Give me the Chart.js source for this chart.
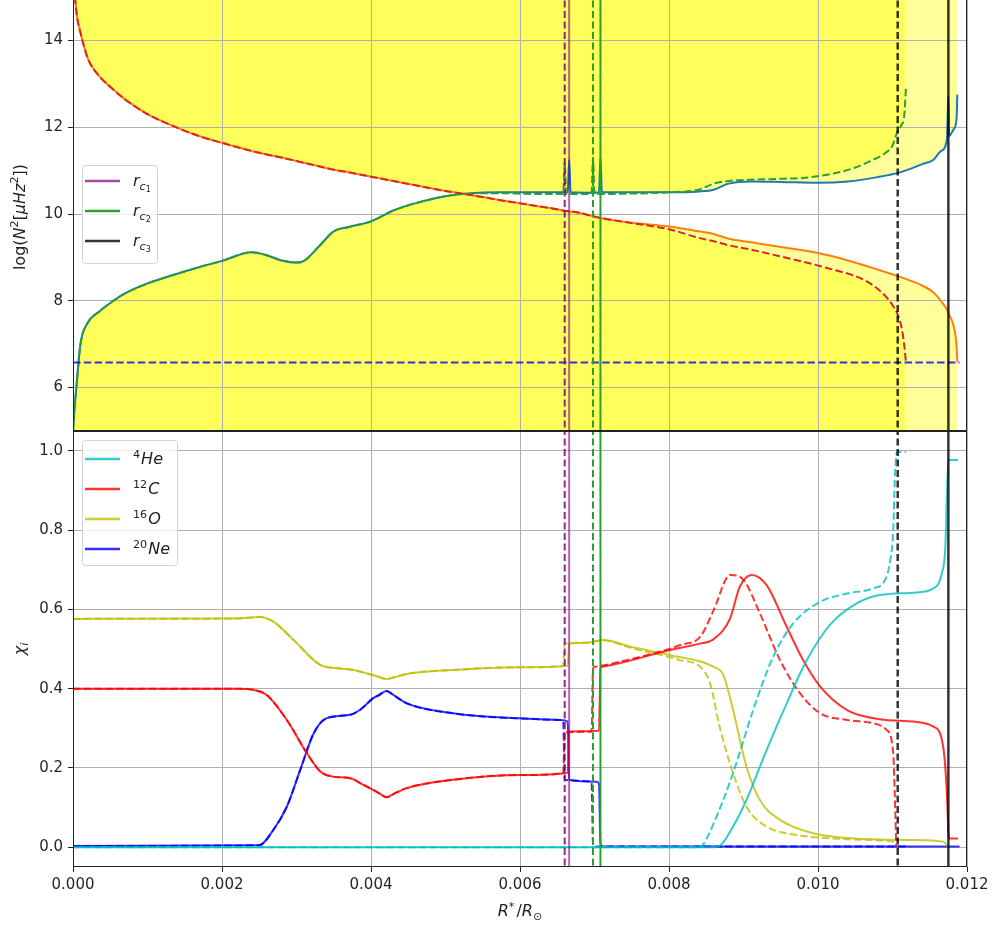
<!DOCTYPE html>
<html>
<head>
<meta charset="utf-8">
<script src="https://cdn.jsdelivr.net/npm/chart.js@4.4.1/dist/chart.umd.min.js"></script>
<style>
  body { margin: 0; background: #fff; }
  #wrap { position: relative; width: 992px; height: 928px; overflow: hidden; }
  canvas { position: absolute; left: 0; }
  #topPanel { top: -3px; }
  #bottomPanel { top: 431px; }
</style>
</head>
<body>
<div id="wrap">
  <canvas id="topPanel" width="992" height="434"></canvas>
  <canvas id="bottomPanel" width="992" height="497"></canvas>
</div>
<script>
// ---- axis ticks ----
const xTicks = [0, 0.002, 0.004, 0.006, 0.008, 0.010, 0.012];
const xTickLabels = ['0.000', '0.002', '0.004', '0.006', '0.008', '0.010', '0.012'];
const topYTicks = [6, 8, 10, 12, 14];
const topYTickLabels = ['6', '8', '10', '12', '14'];
const botYTicks = [0, 0.2, 0.4, 0.6, 0.8, 1.0];
const botYTickLabels = ['0.0', '0.2', '0.4', '0.6', '0.8', '1.0'];

// ---- model 1 (dashed): radius, log N^2, log S^2 ----
const r1 = [0, 0.00002, 0.00005, 0.0001, 0.0002, 0.00035, 0.0005, 0.0007, 0.001, 0.0013, 0.0017, 0.002, 0.0024, 0.0026, 0.0028, 0.003, 0.0031, 0.0033, 0.0035, 0.0037, 0.004, 0.0043, 0.0046, 0.005, 0.0053, 0.0057, 0.0062, 0.00658, 0.0066, 0.00662, 0.00696, 0.00698, 0.007, 0.0075, 0.008, 0.0084, 0.0086, 0.0088, 0.0091, 0.0095, 0.0098, 0.0102, 0.0105, 0.0107, 0.0109, 0.011, 0.01106, 0.01112, 0.01116, 0.01118];
const n1 = [5.0, 5.5, 6.1, 7.0, 7.5, 7.75, 7.95, 8.17, 8.4, 8.57, 8.78, 8.92, 9.12, 9.05, 8.93, 8.88, 8.92, 9.25, 9.6, 9.7, 9.83, 10.08, 10.25, 10.41, 10.47, 10.48, 10.46, 10.46, 11.2, 10.46, 10.46, 11.3, 10.46, 10.47, 10.5, 10.56, 10.7, 10.76, 10.79, 10.81, 10.83, 10.93, 11.07, 11.22, 11.4, 11.58, 11.87, 12.05, 12.3, 12.9];
const s1 = [16.0, 15.2, 14.6, 14.18, 13.58, 13.18, 12.93, 12.64, 12.3, 12.06, 11.79, 11.64, 11.45, 11.37, 11.3, 11.22, 11.18, 11.1, 11.02, 10.96, 10.86, 10.76, 10.66, 10.53, 10.45, 10.33, 10.19, 10.08, 10.07, 10.07, 9.96, 9.95, 9.94, 9.79, 9.65, 9.45, 9.37, 9.28, 9.18, 9.02, 8.9, 8.72, 8.57, 8.4, 8.12, 7.9, 7.72, 7.4, 6.95, 6.58];

// ---- model 2 (solid) ----
const r2 = [0, 0.00002, 0.00005, 0.0001, 0.0002, 0.00035, 0.0005, 0.0007, 0.001, 0.0013, 0.0017, 0.002, 0.0024, 0.0026, 0.0028, 0.003, 0.0031, 0.0033, 0.0035, 0.0037, 0.004, 0.0043, 0.0046, 0.005, 0.0053, 0.0057, 0.0062, 0.00664, 0.00666, 0.00668, 0.007, 0.00706, 0.00708, 0.0071, 0.0075, 0.008, 0.0084, 0.0086, 0.0088, 0.0091, 0.0095, 0.01, 0.0104, 0.0108, 0.0111, 0.0114, 0.01155, 0.01165, 0.01173, 0.01175, 0.01176, 0.01182, 0.01186, 0.01187];
const n2 = [5.0, 5.5, 6.1, 7.0, 7.5, 7.75, 7.95, 8.17, 8.4, 8.57, 8.78, 8.92, 9.12, 9.05, 8.93, 8.88, 8.92, 9.25, 9.6, 9.7, 9.83, 10.08, 10.25, 10.41, 10.47, 10.5, 10.5, 10.5, 11.25, 10.5, 10.49, 10.5, 11.3, 10.5, 10.5, 10.5, 10.52, 10.56, 10.7, 10.75, 10.74, 10.72, 10.75, 10.85, 10.96, 11.15, 11.25, 11.45, 11.71, 12.72, 11.8, 11.95, 12.2, 12.75];
const s2 = [16.0, 15.2, 14.6, 14.18, 13.58, 13.18, 12.93, 12.64, 12.3, 12.06, 11.79, 11.64, 11.45, 11.37, 11.3, 11.22, 11.18, 11.1, 11.02, 10.96, 10.86, 10.76, 10.66, 10.53, 10.45, 10.33, 10.19, 10.06, 10.05, 10.05, 9.94, 9.92, 9.91, 9.9, 9.8, 9.71, 9.6, 9.54, 9.43, 9.35, 9.24, 9.1, 8.93, 8.72, 8.55, 8.35, 8.19, 8.0, 7.8, 7.73, 7.68, 7.42, 6.95, 6.58];

const logOmega2 = 6.58;
const omegaSpan = [0, 0.0119];

// convective boundaries r_c1, r_c2, r_c3
const rcDashed = [0.0066, 0.00698, 0.01107];
const rcSolid = [0.00666, 0.00708, 0.01175];
const rcColors = ['rgba(128,0,128,0.7)', '#2ca02c', 'rgba(0,0,0,0.8)'];

// ---- abundances, model 2 (solid) ----
const heR2 = [0, 0.0086, 0.00868, 0.00886, 0.00904, 0.00931, 0.00958, 0.00985, 0.01016, 0.01052, 0.01083, 0.01128, 0.01155, 0.01166, 0.01171, 0.01173, 0.01175, 0.01188];
const he2 = [0, 0, 0.003, 0.052, 0.119, 0.245, 0.363, 0.472, 0.561, 0.615, 0.636, 0.642, 0.653, 0.69, 0.76, 0.884, 0.977, 0.977];
const cR2 = [0, 0.0022, 0.00242, 0.0026, 0.00287, 0.00314, 0.00332, 0.00349, 0.00372, 0.0039, 0.0041, 0.00421, 0.0043, 0.00448, 0.0051, 0.006, 0.00664, 0.00666, 0.00706, 0.00708, 0.0071, 0.0075, 0.008, 0.0084, 0.0086, 0.00882, 0.00895, 0.00911, 0.00931, 0.00958, 0.0098, 0.01003, 0.01039, 0.01083, 0.01128, 0.01155, 0.01168, 0.01173, 0.01175, 0.01176, 0.01188];
const c2 = [0.4, 0.4, 0.397, 0.384, 0.321, 0.237, 0.191, 0.178, 0.174, 0.157, 0.137, 0.126, 0.134, 0.149, 0.17, 0.182, 0.188, 0.292, 0.294, 0.45, 0.455, 0.472, 0.497, 0.513, 0.525, 0.577, 0.657, 0.687, 0.661, 0.556, 0.472, 0.405, 0.346, 0.323, 0.317, 0.304, 0.254, 0.136, 0.04, 0.022, 0.022];
const oR2 = [0, 0.0022, 0.00251, 0.00269, 0.00296, 0.00332, 0.00358, 0.00376, 0.0041, 0.00421, 0.0043, 0.00448, 0.0051, 0.006, 0.00664, 0.00666, 0.0069, 0.00712, 0.0075, 0.008, 0.0086, 0.00873, 0.00886, 0.00904, 0.00922, 0.00949, 0.00994, 0.01039, 0.01128, 0.01168, 0.01175];
const o2 = [0.576, 0.577, 0.581, 0.569, 0.523, 0.46, 0.451, 0.447, 0.43, 0.424, 0.428, 0.437, 0.447, 0.454, 0.457, 0.514, 0.516, 0.523, 0.505, 0.485, 0.455, 0.434, 0.346, 0.203, 0.119, 0.069, 0.035, 0.023, 0.018, 0.014, 0.0];
const neR2 = [0, 0.0025, 0.00269, 0.00287, 0.00305, 0.00323, 0.0034, 0.00372, 0.00385, 0.00403, 0.0041, 0.00421, 0.0043, 0.00448, 0.0051, 0.006, 0.00654, 0.00664, 0.00666, 0.00703, 0.00706, 0.00708, 0.0071, 0.0119];
const ne2 = [0.003, 0.005, 0.044, 0.102, 0.195, 0.287, 0.325, 0.334, 0.346, 0.376, 0.383, 0.394, 0.384, 0.363, 0.338, 0.325, 0.321, 0.317, 0.17, 0.165, 0.16, 0.01, 0.002, 0.002];

// ---- abundances, model 1 (dashed) ----
const heR1 = [0, 0.0084, 0.00845, 0.0086, 0.00886, 0.00913, 0.0094, 0.00967, 0.01003, 0.01039, 0.01074, 0.0109, 0.01097, 0.01101, 0.01103, 0.01106, 0.01118];
const he1 = [0, 0, 0.005, 0.06, 0.187, 0.346, 0.481, 0.565, 0.619, 0.64, 0.653, 0.674, 0.724, 0.8, 0.926, 0.997, 0.997];
const cR1 = [0, 0.0022, 0.00242, 0.0026, 0.00287, 0.00314, 0.00332, 0.00349, 0.00372, 0.0039, 0.0041, 0.00421, 0.0043, 0.00448, 0.0051, 0.006, 0.00658, 0.0066, 0.00696, 0.00698, 0.007, 0.0075, 0.008, 0.00815, 0.00842, 0.0086, 0.00882, 0.009, 0.00922, 0.00949, 0.00976, 0.01003, 0.01039, 0.01074, 0.01092, 0.01101, 0.01103, 0.01105];
const c1 = [0.4, 0.4, 0.397, 0.384, 0.321, 0.237, 0.191, 0.178, 0.174, 0.157, 0.137, 0.126, 0.134, 0.149, 0.17, 0.182, 0.186, 0.29, 0.292, 0.45, 0.455, 0.475, 0.5, 0.51, 0.531, 0.598, 0.687, 0.674, 0.59, 0.472, 0.388, 0.338, 0.321, 0.313, 0.296, 0.237, 0.136, 0.0];
const oR1 = [0, 0.0022, 0.00251, 0.00269, 0.00296, 0.00332, 0.00358, 0.00376, 0.0041, 0.00421, 0.0043, 0.00448, 0.0051, 0.006, 0.00658, 0.0066, 0.0069, 0.0071, 0.0075, 0.008, 0.00815, 0.00842, 0.00855, 0.00868, 0.00886, 0.00904, 0.00931, 0.00971, 0.01039, 0.01101, 0.01105];
const o1 = [0.576, 0.577, 0.581, 0.569, 0.523, 0.46, 0.451, 0.447, 0.43, 0.424, 0.428, 0.437, 0.447, 0.454, 0.457, 0.514, 0.516, 0.522, 0.502, 0.48, 0.472, 0.455, 0.414, 0.304, 0.187, 0.102, 0.052, 0.031, 0.02, 0.014, 0.012];
const neR1 = [0, 0.0025, 0.00269, 0.00287, 0.00305, 0.00323, 0.0034, 0.00372, 0.00385, 0.00403, 0.0041, 0.00421, 0.0043, 0.00448, 0.0051, 0.006, 0.00654, 0.00658, 0.0066, 0.00696, 0.00698, 0.007, 0.01118];
const ne1 = [0.003, 0.005, 0.044, 0.102, 0.195, 0.287, 0.325, 0.334, 0.346, 0.376, 0.383, 0.394, 0.384, 0.363, 0.338, 0.325, 0.321, 0.318, 0.17, 0.165, 0.01, 0.002, 0.002];

const speciesColors = ['rgba(0,191,191,0.8)', 'rgba(255,0,0,0.8)', 'rgba(191,191,0,0.8)', 'rgba(0,0,255,0.8)'];

Chart.defaults.font.family = '"DejaVu Sans", sans-serif';
Chart.defaults.font.size = 15;
Chart.defaults.color = '#262626';

// ---- text helpers (mixed italic / super- / subscript) ----
function partFont(p, size) {
  const k = p.s === -2 ? 0.5 : (p.s ? 0.7 : 1);
  return (p.i ? 'italic ' : '') + (size * k).toFixed(1) + 'px "DejaVu Sans"';
}
function richWidth(ctx, parts, size) {
  let w = 0;
  parts.forEach(p => { ctx.font = partFont(p, size); w += ctx.measureText(p.t).width; });
  return w;
}
function drawRich(ctx, parts, x, y, size, align) {
  let cx = align === 'center' ? x - richWidth(ctx, parts, size) / 2 : x;
  ctx.textAlign = 'left';
  ctx.textBaseline = 'alphabetic';
  parts.forEach(p => {
    const dy = p.s === 1 ? -0.4 * size : p.s === -1 ? 0.22 * size : p.s === -2 ? 0.4 * size : 0;
    ctx.font = partFont(p, size);
    ctx.fillText(p.t, cx, y + dy);
    cx += ctx.measureText(p.t).width + (p.gap || 0);
  });
}
function drawVertical(ctx, parts, x, y, size) {
  ctx.save();
  ctx.translate(x, y);
  ctx.rotate(-Math.PI / 2);
  drawRich(ctx, parts, 0, 0.35 * size, size, 'center');
  ctx.restore();
}
function drawLegend(ctx, x, y, w, h, rows, rowY0, step) {
  ctx.save();
  ctx.fillStyle = 'rgba(255,255,255,0.8)';
  ctx.strokeStyle = '#d4d4d4';
  ctx.lineWidth = 1;
  ctx.beginPath();
  ctx.roundRect(x + 0.5, y + 0.5, w, h, 3);
  ctx.fill();
  ctx.stroke();
  rows.forEach((row, i) => {
    const ly = rowY0 + i * step;
    ctx.strokeStyle = row.color;
    ctx.lineWidth = 2.5;
    ctx.beginPath();
    ctx.moveTo(x + 3, ly);
    ctx.lineTo(x + 38, ly);
    ctx.stroke();
    ctx.fillStyle = '#222';
    drawRich(ctx, row.label, x + 51, ly + 5, 16, 'left');
  });
  ctx.restore();
}
function drawFrame(chart) {
  const ctx = chart.ctx, a = chart.chartArea;
  ctx.save();
  ctx.strokeStyle = '#222';
  ctx.lineWidth = 1;
  ctx.strokeRect(a.left + 0.5, a.top + 0.5, a.right - a.left - 1, a.bottom - a.top - 1);
  ctx.restore();
}

const rcLabels = ['1', '2', '3'].map(k => [{ t: 'r', i: true }, { t: 'c', i: true, s: -1 }, { t: k, s: -2 }]);
const speciesLabels = [
  [{ t: '4', s: 1, gap: 1 }, { t: 'He', i: true }],
  [{ t: '12', s: 1, gap: 1 }, { t: 'C', i: true }],
  [{ t: '16', s: 1, gap: 1 }, { t: 'O', i: true }],
  [{ t: '20', s: 1, gap: 1 }, { t: 'Ne', i: true }]
];

// ---- dataset builders ----
const pts = (xs, ys) => xs.map((x, i) => ({ x: x, y: ys[i] }));

function curve(xs, ys, color, dashed, order) {
  return {
    data: pts(xs, ys),
    borderColor: color,
    borderWidth: 2,
    borderDash: dashed ? [7.5, 3.3] : [],
    cubicInterpolationMode: 'monotone',
    pointRadius: 0,
    fill: false,
    order: order
  };
}
function vline(x, lo, hi, color, dashed, width, order) {
  return {
    data: [{ x: x, y: lo }, { x: x, y: hi }],
    borderColor: color,
    borderWidth: width,
    borderDash: dashed ? [7, 3.5] : [],
    pointRadius: 0,
    fill: false,
    order: order
  };
}
// propagation zone shading: above max(N,S) and below min(N,S)
function bands(xs, n, s) {
  const base = { borderWidth: 0, borderColor: 'rgba(0,0,0,0)', backgroundColor: 'rgba(255,255,0,0.4)',
    cubicInterpolationMode: 'monotone', pointRadius: 0, order: 50 };
  return [
    Object.assign({}, base, { data: pts(xs, n.map((v, i) => Math.max(v, s[i]))), fill: 'end' }),
    Object.assign({}, base, { data: pts(xs, n.map((v, i) => Math.min(v, s[i]))), fill: 'start' })
  ];
}
function vlines(lo, hi) {
  const out = [];
  rcDashed.forEach((x, k) => out.push(vline(x, lo, hi, k === 0 ? 'rgba(128,0,128,0.85)' : rcColors[k], true, k === 2 ? 2.5 : 2, 2)));
  rcSolid.forEach((x, k) => out.push(vline(x, lo, hi, k === 0 ? 'rgba(128,0,128,0.6)' : rcColors[k], false, k === 2 ? 2.5 : 2, 1)));
  return out;
}

function fixedTicks(values) {
  return scale => { scale.ticks = values.map(v => ({ value: v })); };
}
const gridStyle = { color: '#b0b0b0', lineWidth: 1, tickColor: '#222', tickLength: 5 };

// ---- top panel: log N^2 and Lamb frequency ----
new Chart(document.getElementById('topPanel'), {
  type: 'line',
  data: {
    datasets: [
      ...bands(r1, n1, s1),
      ...bands(r2, n2, s2),
      curve(r2, n2, '#1f77b4', false, 9),
      curve(r2, s2, '#ff7f0e', false, 8),
      curve(r1, n1, '#2ca02c', true, 7),
      curve(r1, s1, '#d62728', true, 6),
      curve(omegaSpan, [logOmega2, logOmega2], 'rgba(0,0,255,0.8)', true, 5),
      ...vlines(0, 20)
    ]
  },
  options: {
    responsive: false,
    animation: false,
    layout: { padding: { left: 0, right: 25, top: 0, bottom: 0 } },
    plugins: { legend: { display: false }, tooltip: { enabled: false }, filler: { drawTime: 'beforeDraw' } },
    scales: {
      x: {
        type: 'linear', min: 0, max: 0.012,
        afterBuildTicks: fixedTicks(xTicks),
        ticks: { display: false },
        grid: Object.assign({}, gridStyle, { drawTicks: false }),
        border: { display: false },
        afterFit: s => { s.height = 0; s.paddingLeft = 0; s.paddingRight = 0; }
      },
      y: {
        min: 5, max: 15,
        afterBuildTicks: fixedTicks(topYTicks),
        ticks: { padding: 5, callback: (v, i) => topYTickLabels[i] },
        grid: gridStyle,
        border: { display: false },
        afterFit: s => { s.width = 73; s.paddingTop = 0; s.paddingBottom = 0; }
      }
    }
  },
  plugins: [{
    id: 'topDecor',
    afterDraw(chart) {
      const ctx = chart.ctx;
      drawFrame(chart);
      ctx.save();
      ctx.fillStyle = '#222';
      drawVertical(ctx, [{ t: 'log(' }, { t: 'N', i: true }, { t: '2', s: 1 }, { t: '[' }, { t: 'μHz', i: true }, { t: '2', s: 1 }, { t: '])' }], 19, 220, 16);
      ctx.restore();
      drawLegend(ctx, 82, 168, 75, 98, rcColors.map((c, k) => ({ color: c, label: rcLabels[k] })), 184, 30);
    }
  }]
});

// ---- bottom panel: mass fractions ----
new Chart(document.getElementById('bottomPanel'), {
  type: 'line',
  data: {
    datasets: [
      curve(neR2, ne2, speciesColors[3], false, 20),
      curve(neR1, ne1, speciesColors[3], true, 19),
      curve(oR2, o2, speciesColors[2], false, 18),
      curve(oR1, o1, speciesColors[2], true, 17),
      curve(cR2, c2, speciesColors[1], false, 16),
      curve(cR1, c1, speciesColors[1], true, 15),
      curve(heR2, he2, speciesColors[0], false, 14),
      curve(heR1, he1, speciesColors[0], true, 13),
      ...vlines(-1, 2)
    ]
  },
  options: {
    responsive: false,
    animation: false,
    layout: { padding: { left: 0, right: 25, top: 0, bottom: 0 } },
    plugins: { legend: { display: false }, tooltip: { enabled: false } },
    scales: {
      x: {
        type: 'linear', min: 0, max: 0.012,
        afterBuildTicks: fixedTicks(xTicks),
        ticks: { padding: 4, maxRotation: 0, callback: (v, i) => xTickLabels[i] },
        grid: gridStyle,
        border: { display: false },
        afterFit: s => { s.height = 61; s.paddingLeft = 0; s.paddingRight = 0; }
      },
      y: {
        min: -0.05, max: 1.05,
        afterBuildTicks: fixedTicks(botYTicks),
        ticks: { padding: 5, callback: (v, i) => botYTickLabels[i] },
        grid: gridStyle,
        border: { display: false },
        afterFit: s => { s.width = 73; s.paddingTop = 0; s.paddingBottom = 0; }
      }
    }
  },
  plugins: [{
    id: 'bottomDecor',
    afterDraw(chart) {
      const ctx = chart.ctx;
      drawFrame(chart);
      ctx.save();
      ctx.fillStyle = '#222';
      drawVertical(ctx, [{ t: 'χ', i: true }, { t: 'i', i: true, s: -1 }], 19, 218, 16);
      drawRich(ctx, [{ t: 'R', i: true }, { t: '*', s: 1, gap: 2 }, { t: '/' }, { t: 'R', i: true }, { t: '⊙', s: -1 }], 519, 485, 16, 'center');
      ctx.restore();
      drawLegend(ctx, 82, 9, 95, 125, speciesColors.map((c, k) => ({ color: c, label: speciesLabels[k] })), 28, 30);
    }
  }]
});
</script>
</body>
</html>
